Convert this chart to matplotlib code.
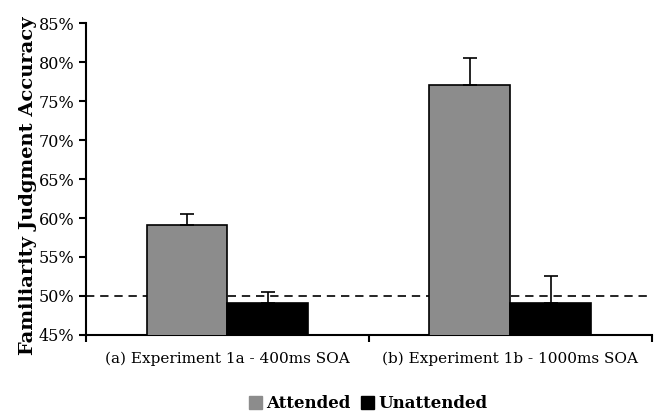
import matplotlib
matplotlib.use('Agg')
import numpy as np
import matplotlib.pyplot as plt
from matplotlib.patches import Patch
from matplotlib.ticker import FuncFormatter

# Data
groups = ['(a) Experiment 1a - 400ms SOA', '(b) Experiment 1b - 1000ms SOA']
attended = [59.1, 77.05]
attended_err = [1.4, 3.45]
unattended = [49.1, 49.1]
unattended_err = [1.4, 3.5]
chance = 50

plt.rcParams['font.family'] = 'DejaVu Serif'

fig = plt.figure(figsize=(6.57, 4.13), dpi=100)
ax = fig.add_axes([0.131, 0.189, 0.861, 0.755])

x = np.arange(len(groups))
w = 0.286
zero_err = [0, 0]
ax.bar(x - w / 2, attended, w, color='#8c8c8c', edgecolor='black', linewidth=1.2,
       yerr=[zero_err, attended_err], capsize=5, error_kw=dict(elinewidth=1.2, capthick=1.2),
       zorder=3, label='Attended')
ax.bar(x + w / 2, unattended, w, color='black', edgecolor='black', linewidth=1.2,
       yerr=[zero_err, unattended_err], capsize=5, error_kw=dict(elinewidth=1.2, capthick=1.2),
       zorder=3, label='Unattended')

# Chance line
ax.axhline(chance, color='black', linestyle=(0, (5, 3.5)), linewidth=1.2, zorder=2)

ax.set_ylim(45, 85)
ax.set_xlim(-0.5, 1.5)
ax.set_yticks(np.arange(45, 86, 5))
ax.yaxis.set_major_formatter(FuncFormatter(lambda v, p: '%d%%' % v))
ax.set_xticks(x)
ax.set_xticklabels(groups, fontsize=11)
ax.set_xticks([-0.5, 0.5, 1.5], minor=True)
ax.tick_params(axis='x', which='major', length=0, pad=12)
ax.tick_params(axis='x', which='minor', length=5, width=1.5, direction='out')
ax.tick_params(axis='y', length=5, width=1.5, labelsize=11.5)

for s in ['top', 'right']:
    ax.spines[s].set_visible(False)
for s in ['left', 'bottom']:
    ax.spines[s].set_linewidth(1.5)

ax.set_ylabel('Familiarity Judgment Accuracy', fontsize=14, fontweight='bold')
ax.yaxis.set_label_coords(-0.087, 0.478)

handles = [Patch(facecolor='#8c8c8c', edgecolor='#8c8c8c', label='Attended'),
           Patch(facecolor='black', edgecolor='black', label='Unattended')]
fig.legend(handles=handles, loc='lower center', bbox_to_anchor=(0.56, -0.035), ncol=2,
           frameon=False, prop=dict(weight='bold', size=12), handlelength=0.8, handleheight=0.8,
           handletextpad=0.25, columnspacing=0.6)

fig.savefig('out.png', dpi=100)
